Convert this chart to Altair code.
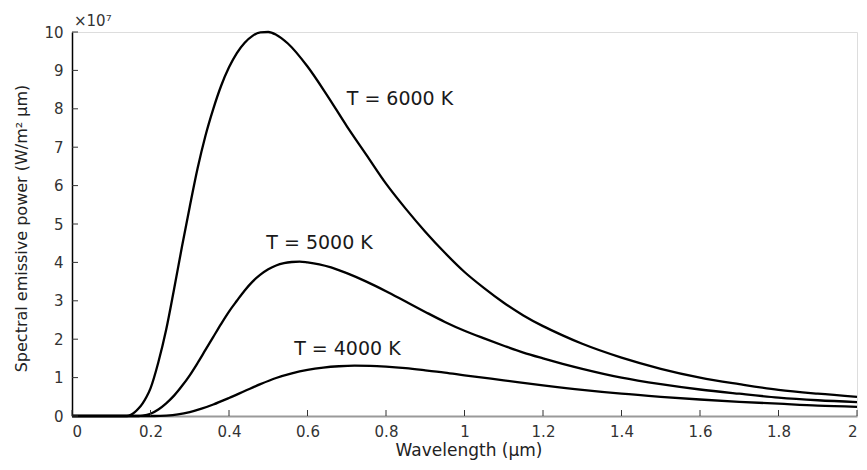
import altair as alt
import pandas as pd

# ---- data ----
wl_6000 = [0, 0.14, 0.15, 0.16, 0.17, 0.18, 0.19, 0.20, 0.22, 0.24, 0.26, 0.28, 0.30, 0.32,
           0.34, 0.36, 0.38, 0.40, 0.42, 0.44, 0.46, 0.48, 0.50, 0.52, 0.55, 0.60, 0.65,
           0.70, 0.75, 0.80, 0.85, 0.90, 0.95, 1.00, 1.05, 1.10, 1.15, 1.20, 1.25, 1.30,
           1.40, 1.50, 1.60, 1.70, 1.80, 1.90, 2.00]
sp_6000 = [0, 0, 0.03, 0.1, 0.2, 0.33, 0.5, 0.72, 1.4, 2.25, 3.3, 4.4, 5.45, 6.45,
           7.3, 8.0, 8.6, 9.08, 9.45, 9.72, 9.9, 9.99, 10.0, 9.93, 9.7, 9.1, 8.35,
           7.55, 6.8, 6.05, 5.4, 4.8, 4.25, 3.75, 3.33, 2.95, 2.62, 2.34, 2.1, 1.88,
           1.52, 1.23, 1.0, 0.83, 0.68, 0.58, 0.5]

wl_5000 = [0, 0.17, 0.18, 0.20, 0.22, 0.24, 0.26, 0.28, 0.30, 0.32, 0.34, 0.36, 0.38, 0.40,
           0.42, 0.44, 0.46, 0.48, 0.50, 0.52, 0.54, 0.56, 0.58, 0.60, 0.63, 0.66, 0.70,
           0.75, 0.80, 0.85, 0.90, 0.95, 1.00, 1.05, 1.10, 1.15, 1.20, 1.25, 1.30, 1.40,
           1.50, 1.60, 1.70, 1.80, 1.90, 2.00]
sp_5000 = [0, 0, 0.01, 0.06, 0.17, 0.33, 0.53, 0.78, 1.06, 1.38, 1.72, 2.06, 2.4, 2.72,
           3.0, 3.27, 3.5, 3.68, 3.82, 3.92, 3.98, 4.01, 4.02, 4.0, 3.95, 3.87, 3.72,
           3.5, 3.25, 2.98, 2.71, 2.45, 2.22, 2.02, 1.83, 1.65, 1.5, 1.36, 1.23, 1.0,
           0.83, 0.69, 0.58, 0.48, 0.41, 0.36]

wl_4000 = [0, 0.21, 0.24, 0.27, 0.30, 0.33, 0.36, 0.40, 0.44, 0.48, 0.52, 0.56, 0.60, 0.64,
           0.68, 0.72, 0.76, 0.80, 0.85, 0.90, 0.95, 1.00, 1.10, 1.20, 1.30, 1.40, 1.50,
           1.60, 1.70, 1.80, 1.90, 2.00]
sp_4000 = [0, 0, 0.01, 0.04, 0.1, 0.19, 0.3, 0.47, 0.65, 0.83, 0.99, 1.11, 1.2, 1.26,
           1.295, 1.31, 1.305, 1.285, 1.245, 1.19, 1.13, 1.06, 0.93, 0.8, 0.68, 0.58, 0.5,
           0.43, 0.37, 0.32, 0.27, 0.24]

temps = ["T = 6000 K", "T = 5000 K", "T = 4000 K"]
label_x = [0.70, 0.495, 0.566]
label_y = [8.26, 4.5, 1.745]

x_ticks = [0, 0.2, 0.4, 0.6, 0.8, 1.0, 1.2, 1.4, 1.6, 1.8, 2.0]
y_ticks = [0, 1, 2, 3, 4, 5, 6, 7, 8, 9, 10]

W, H = 785, 384
FONT = "DejaVu Sans"

curves = pd.concat([
    pd.DataFrame({"wl": wl_6000, "sp": sp_6000, "T": temps[0]}),
    pd.DataFrame({"wl": wl_5000, "sp": sp_5000, "T": temps[1]}),
    pd.DataFrame({"wl": wl_4000, "sp": sp_4000, "T": temps[2]}),
])
labels = pd.DataFrame({"wl": label_x, "sp": label_y, "T": temps})
xt = pd.DataFrame({"wl": x_ticks})
yt = pd.DataFrame({"sp": y_ticks})
ex = pd.DataFrame({"t": ["×10⁷"], "wl": [0], "sp": [10]})

xs = alt.Scale(domain=[0, 2], nice=False, zero=False)
ys = alt.Scale(domain=[0, 10], nice=False, zero=False)

x_axis = alt.Axis(
    values=x_ticks, format="~g", tickSize=0, labelPadding=8, labelOverlap=False,
    labelFontSize=15, labelFont=FONT, labelColor="#333333",
    domainColor="#9a9a9a", domainWidth=2, grid=False,
    title="Wavelength (μm)", titleFont=FONT, titleFontSize=17,
    titleFontWeight="normal", titleColor="#222222",
    titleX=W / 2 + 4, titleY=34, titleBaseline="middle", titleAlign="center")
y_axis = alt.Axis(
    values=y_ticks, format="d", tickSize=0, labelPadding=9, labelOverlap=False,
    labelFontSize=15, labelFont=FONT, labelColor="#333333",
    domainColor="black", domainWidth=1.5, grid=False,
    title="Spectral emissive power (W/m² μm)", titleFont=FONT, titleFontSize=16,
    titleFontWeight="normal", titleColor="#222222",
    titleX=-51, titleY=196, titleAngle=270, titleBaseline="middle",
    titleAlign="center")


def X():
    return alt.X("wl:Q", scale=xs, axis=x_axis)


def Y():
    return alt.Y("sp:Q", scale=ys, axis=y_axis)


lines = alt.Chart(curves).mark_line(
    color="black", strokeWidth=2.3, interpolate="monotone"
).encode(x=X(), y=Y(), detail="T:N")

xtick_marks = alt.Chart(xt).mark_rule(color="#333333", strokeWidth=1).encode(
    x=X(), y=alt.value(H), y2=alt.value(H - 6))
ytick_marks = alt.Chart(yt).mark_rule(color="#333333", strokeWidth=1).encode(
    y=Y(), x=alt.value(0), x2=alt.value(6))

texts = alt.Chart(labels).mark_text(
    align="left", baseline="middle", font=FONT, fontSize=19, color="#1a1a1a"
).encode(x=X(), y=Y(), text="T:N")

expo = alt.Chart(ex).mark_text(
    align="left", baseline="bottom", font=FONT, fontSize=15, color="#333333", dx=2, dy=-3
).encode(x=X(), y=Y(), text="t:N")

chart = alt.layer(lines, xtick_marks, ytick_marks, texts, expo).properties(
    width=W, height=H,
    autosize=alt.AutoSizeParams(type="none"),
    padding={"left": 64, "top": 24, "right": 2, "bottom": 46},
).configure_view(stroke=None).configure(background="white")

chart.save("out.html", embed_options={"renderer": "svg", "actions": False})
